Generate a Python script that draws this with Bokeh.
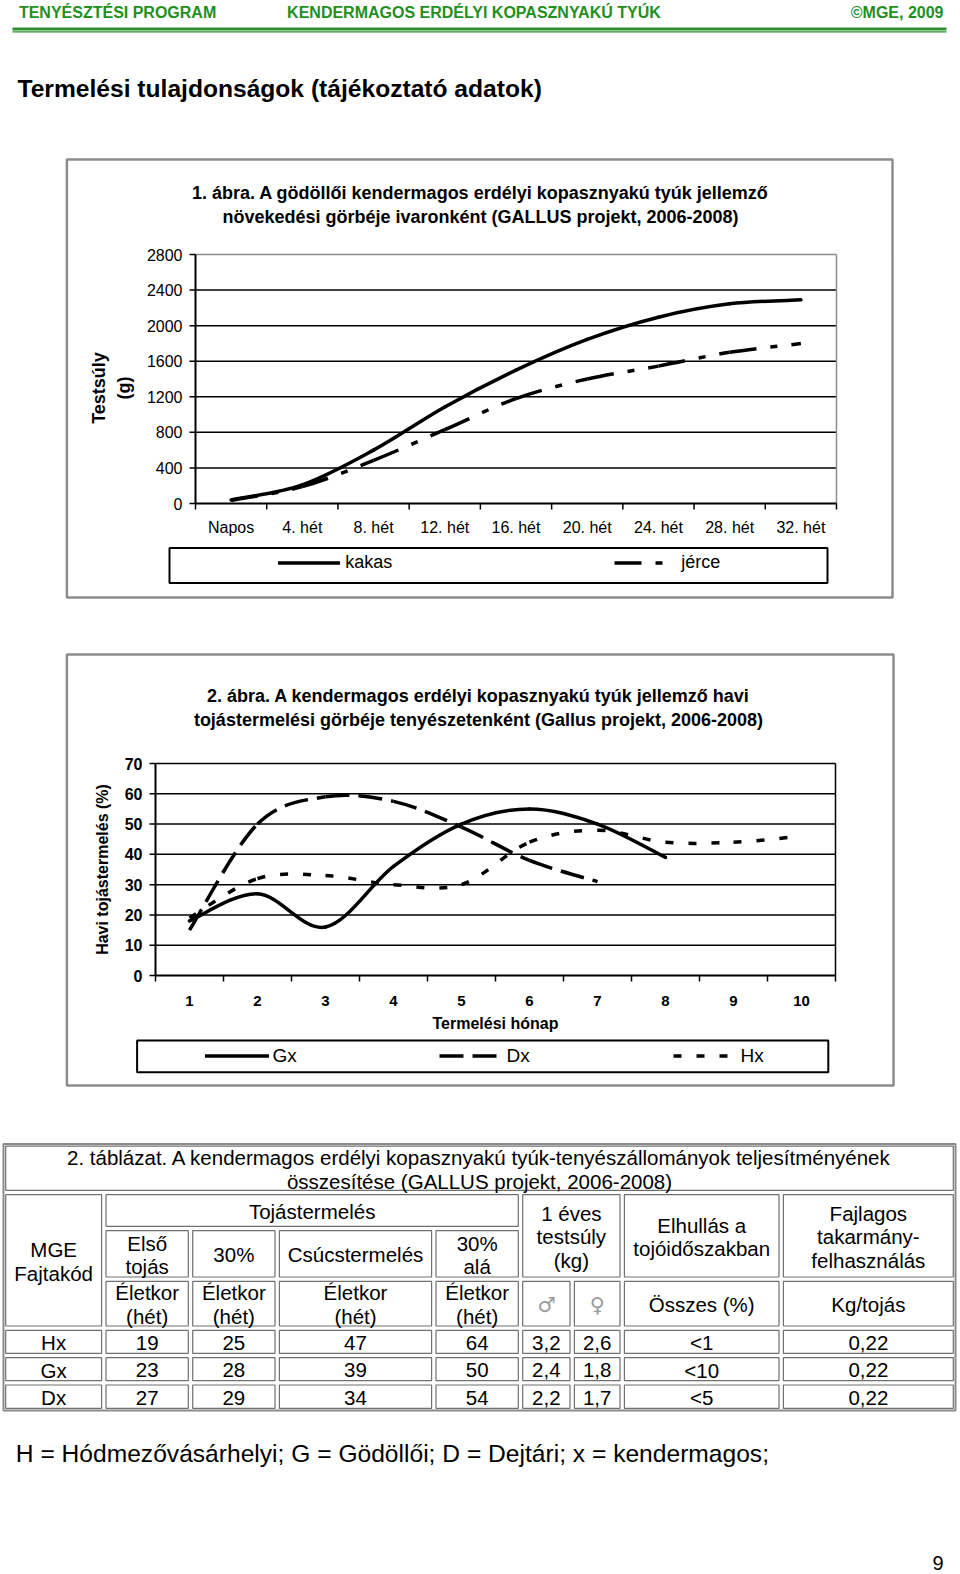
import math
from bokeh.plotting import figure
from bokeh.models import Range1d, Legend, LegendItem, ColumnDataSource
from bokeh.core.properties import value
from bokeh.embed import file_html
from bokeh.resources import INLINE

# ---------------- texts & data ----------------
header_left = "TENYÉSZTÉSI PROGRAM"
header_mid = "KENDERMAGOS ERDÉLYI KOPASZNYAKÚ TYÚK"
header_right = "©MGE, 2009"
page_title = "Termelési tulajdonságok (tájékoztató adatok)"

chart1_title = ["1. ábra. A gödöllői kendermagos erdélyi kopasznyakú tyúk jellemző",
                "növekedési görbéje ivaronként (GALLUS projekt, 2006-2008)"]
chart1_ylabel = ["Testsúly", "(g)"]
weeks = ["Napos", "4. hét", "8. hét", "12. hét", "16. hét", "20. hét", "24. hét", "28. hét", "32. hét"]
kakas = [40, 210, 600, 1085, 1500, 1845, 2095, 2245, 2290]
jerce = [35, 190, 485, 830, 1180, 1400, 1545, 1700, 1798]
weight_ticks = [0, 400, 800, 1200, 1600, 2000, 2400, 2800]

chart2_title = ["2. ábra. A kendermagos erdélyi kopasznyakú tyúk jellemző havi",
                "tojástermelési görbéje tenyészetenként (Gallus projekt, 2006-2008)"]
chart2_ylabel = "Havi tojástermelés (%)"
chart2_xlabel = "Termelési hónap"
months = [1, 2, 3, 4, 5, 6, 7, 8, 9, 10]
gx = [18, 27, 16, 36, 50, 55, 50, 39]
dx = [15, 50, 59, 57.5, 49, 38, 31]
hx = [19, 32, 33, 30, 30, 44, 48, 44, 44, 46]
pct_ticks = [0, 10, 20, 30, 40, 50, 60, 70]

table_title = ["2. táblázat. A kendermagos erdélyi kopasznyakú tyúk-tenyészállományok teljesítményének",
               "összesítése (GALLUS projekt, 2006-2008)"]
head_code = ["MGE", "Fajtakód"]
head_egg = ["Tojástermelés"]
head_egg_sub = [["Első", "tojás"], ["30%"], ["Csúcstermelés"], ["30%", "alá"]]
head_age = ["Életkor", "(hét)"]
head_weight = ["1 éves", "testsúly", "(kg)"]
head_sex = ["♂", "♀"]
head_mort = ["Elhullás a", "tojóidőszakban"]
head_mort_sub = ["Összes (%)"]
head_feed = ["Fajlagos", "takarmány-", "felhasználás"]
head_feed_sub = ["Kg/tojás"]
codes = ["Hx", "Gx", "Dx"]
first_egg = [19, 23, 27]
p30 = [25, 28, 29]
peak = [47, 39, 34]
below30 = [64, 50, 54]
w_male = [3.2, 2.4, 2.2]
w_female = [2.6, 1.8, 1.7]
mortality = ["<1", "<10", "<5"]
feed = [0.22, 0.22, 0.22]

footnote = "H = Hódmezővásárhelyi; G = Gödöllői; D = Dejtári; x = kendermagos;"
page_no = "9"

FONT = "Liberation Sans"
GREEN_T = "#1f8f1f"
GREEN_L = "#2e8f2e"
W, H = 960, 1574


def smooth_segments(xs, ys):
    """Bezier segments through the data points (Excel-like smoothed line)."""
    n = len(ys)
    d = dict(x0=[], y0=[], x1=[], y1=[], cx0=[], cy0=[], cx1=[], cy1=[])
    for i in range(n - 1):
        xa, ya = (xs[i - 1], ys[i - 1]) if i > 0 else (xs[i], ys[i])
        xb, yb = (xs[i + 2], ys[i + 2]) if i + 2 < n else (xs[i + 1], ys[i + 1])
        d["x0"].append(xs[i]); d["y0"].append(ys[i])
        d["x1"].append(xs[i + 1]); d["y1"].append(ys[i + 1])
        d["cx0"].append(xs[i] + (xs[i + 1] - xa) / 6.0)
        d["cy0"].append(ys[i] + (ys[i + 1] - ya) / 6.0)
        d["cx1"].append(xs[i + 1] - (xb - xs[i]) / 6.0)
        d["cy1"].append(ys[i + 1] - (yb - ys[i]) / 6.0)
    return ColumnDataSource(d)


def lin_range(v_a, p_a, v_b, p_b, p_start, p_end):
    """Range whose values map v_a->pixel p_a and v_b->pixel p_b across the page canvas."""
    k = (v_b - v_a) / (p_b - p_a)
    return Range1d(start=v_a + (p_start - p_a) * k, end=v_a + (p_end - p_a) * k)


P = figure(width=W, height=H, x_range=Range1d(0, W), y_range=Range1d(H, 0),
           x_axis_type=None, y_axis_type=None, title=None, min_border=0,
           toolbar_location=None, output_backend="svg", outline_line_color=None)
P.background_fill_color = "white"
P.border_fill_color = "white"


def txt(xs, ys, texts, size, bold=False, align="center", color="black", font=FONT,
        angle=0.0, xr="default", yr="default"):
    P.text(x=xs, y=ys, text=texts, text_align=align, text_baseline="middle",
           text_font=value(font), text_font_size=value(size),
           text_font_style="bold" if bold else "normal", text_color=color, angle=angle,
           x_range_name=xr, y_range_name=yr)


def box(l, r, t, b, color, width):
    P.quad(left=[l], right=[r], top=[t], bottom=[b], fill_color=None,
           line_color=color, line_width=width)


# ---------------- header ----------------
txt([18.4], [11.7], [header_left], "16px", bold=True, align="left", color=GREEN_T)
txt([286.6], [11.7], [header_mid], "16px", bold=True, align="left", color=GREEN_T)
txt([943], [11.7], [header_right], "16px", bold=True, align="right", color=GREEN_T)
P.segment(x0=[12], y0=[28.5], x1=[946], y1=[28.5], line_color=GREEN_L, line_width=3)
P.segment(x0=[12], y0=[31.4], x1=[946], y1=[31.4], line_color=GREEN_L, line_width=1.2)
txt([17], [88], [page_title], "24.6px", bold=True, align="left")

# ---------------- chart 1 ----------------
L1, R1, T1, B1 = 195, 836, 254, 503
xpos1 = list(range(1, len(weeks) + 1))
bounds1 = [v - 0.5 for v in xpos1] + [xpos1[-1] + 0.5]
P.extra_x_ranges["c1x"] = lin_range(bounds1[0], L1, bounds1[-1], R1, 0, W)
P.extra_y_ranges["c1y"] = lin_range(weight_ticks[0], B1, weight_ticks[-1], T1, H, 0)

box(66.4, 892, 159, 597, "#8c8c8c", 2.5)
txt([480, 480], [192.5, 216.3], chart1_title, "18px", bold=True)

g1 = weight_ticks[1:-1]
P.segment(x0=[bounds1[0]] * len(g1), x1=[bounds1[-1]] * len(g1), y0=g1, y1=g1,
          x_range_name="c1x", y_range_name="c1y", line_color="black", line_width=1.5)
P.segment(x0=[bounds1[0], bounds1[-1]], x1=[bounds1[-1], bounds1[-1]],
          y0=[weight_ticks[-1], weight_ticks[0]], y1=[weight_ticks[-1], weight_ticks[-1]],
          x_range_name="c1x", y_range_name="c1y", line_color="#8c8c8c", line_width=1.5)
P.segment(x0=[bounds1[0], bounds1[0]], x1=[bounds1[0], bounds1[-1]],
          y0=[weight_ticks[0], weight_ticks[0]], y1=[weight_ticks[-1], weight_ticks[0]],
          x_range_name="c1x", y_range_name="c1y", line_color="black", line_width=2)
P.segment(x0=[L1 - 6] * len(weight_ticks), x1=[L1] * len(weight_ticks), y0=weight_ticks, y1=weight_ticks,
          y_range_name="c1y", line_color="black", line_width=1.5)
P.segment(x0=bounds1, x1=bounds1, y0=[B1] * len(bounds1), y1=[B1 + 6] * len(bounds1),
          x_range_name="c1x", line_color="black", line_width=1.5)
txt([182] * len(weight_ticks), weight_ticks, [str(v) for v in weight_ticks], "16px",
    align="right", yr="c1y")
txt(xpos1, [526.7] * len(weeks), weeks, "16px", xr="c1x")
txt([98, 123.5], [387.5, 387.5], chart1_ylabel, "18px", bold=True, angle=math.pi / 2)

r_kakas = P.bezier(x0="x0", y0="y0", x1="x1", y1="y1", cx0="cx0", cy0="cy0", cx1="cx1", cy1="cy1",
                   source=smooth_segments(xpos1, kakas), x_range_name="c1x", y_range_name="c1y",
                   line_color="black", line_width=3.5, line_cap="round")
r_jerce = P.bezier(x0="x0", y0="y0", x1="x1", y1="y1", cx0="cx0", cy0="cy0", cx1="cx1", cy1="cy1",
                   source=smooth_segments(xpos1, jerce), x_range_name="c1x", y_range_name="c1y",
                   line_color="black", line_width=3.5, line_dash="27 14 7 14")

box(169, 827, 547.5, 582.5, "black", 2)
leg1 = Legend(items=[LegendItem(label="kakas", renderers=[r_kakas]),
                     LegendItem(label="jérce", renderers=[r_jerce])],
              orientation="horizontal", location=(278.3, H - 575.0),
              glyph_width=62, glyph_height=25, label_width=269, label_height=25,
              label_standoff=5, padding=0, margin=0, spacing=0,
              border_line_color=None, background_fill_alpha=0,
              label_text_font=FONT, label_text_font_size="18px", label_text_color="black")
P.add_layout(leg1)

# ---------------- chart 2 ----------------
L2, R2, T2, B2 = 155, 835, 763, 975
bounds2 = [m - 0.5 for m in months] + [months[-1] + 0.5]
P.extra_x_ranges["c2x"] = lin_range(bounds2[0], L2, bounds2[-1], R2, 0, W)
P.extra_y_ranges["c2y"] = lin_range(pct_ticks[0], B2, pct_ticks[-1], T2, H, 0)

box(66.4, 893, 654, 1085, "#8c8c8c", 2.5)
txt([478, 478], [695.5, 719], chart2_title, "18px", bold=True)

g2 = pct_ticks[1:]
P.segment(x0=[bounds2[0]] * len(g2), x1=[bounds2[-1]] * len(g2), y0=g2, y1=g2,
          x_range_name="c2x", y_range_name="c2y", line_color="black", line_width=1.5)
P.segment(x0=[bounds2[-1]], x1=[bounds2[-1]], y0=[pct_ticks[0]], y1=[pct_ticks[-1]],
          x_range_name="c2x", y_range_name="c2y", line_color="black", line_width=1.5)
P.segment(x0=[bounds2[0], bounds2[0]], x1=[bounds2[0], bounds2[-1]],
          y0=[pct_ticks[0], pct_ticks[0]], y1=[pct_ticks[-1], pct_ticks[0]],
          x_range_name="c2x", y_range_name="c2y", line_color="black", line_width=2)
P.segment(x0=[L2 - 6] * len(pct_ticks), x1=[L2] * len(pct_ticks), y0=pct_ticks, y1=pct_ticks,
          y_range_name="c2y", line_color="black", line_width=1.5)
P.segment(x0=bounds2, x1=bounds2, y0=[B2] * len(bounds2), y1=[B2 + 6] * len(bounds2),
          x_range_name="c2x", line_color="black", line_width=1.5)
txt([142] * len(pct_ticks), pct_ticks, [str(v) for v in pct_ticks], "16px", bold=True,
    align="right", yr="c2y")
txt(months, [1000] * len(months), [str(m) for m in months], "15px", bold=True, xr="c2x")
txt([495], [1022.7], [chart2_xlabel], "16px", bold=True)
txt([102], [869], [chart2_ylabel], "16px", bold=True, angle=math.pi / 2)

r_gx = P.bezier(x0="x0", y0="y0", x1="x1", y1="y1", cx0="cx0", cy0="cy0", cx1="cx1", cy1="cy1",
                source=smooth_segments(months[:len(gx)], gx), x_range_name="c2x", y_range_name="c2y",
                line_color="black", line_width=3.5, line_cap="round")
r_dx = P.bezier(x0="x0", y0="y0", x1="x1", y1="y1", cx0="cx0", cy0="cy0", cx1="cx1", cy1="cy1",
                source=smooth_segments(months[:len(dx)], dx), x_range_name="c2x", y_range_name="c2y",
                line_color="black", line_width=3.5, line_dash="24 9")
r_hx = P.bezier(x0="x0", y0="y0", x1="x1", y1="y1", cx0="cx0", cy0="cy0", cx1="cx1", cy1="cy1",
                source=smooth_segments(months[:len(hx)], hx), x_range_name="c2x", y_range_name="c2y",
                line_color="black", line_width=3.5, line_dash="8 15")

box(136.6, 827.8, 1040, 1071.7, "black", 2)
leg2 = Legend(items=[LegendItem(label="Gx", renderers=[r_gx]),
                     LegendItem(label="Dx", renderers=[r_dx]),
                     LegendItem(label="Hx", renderers=[r_hx])],
              orientation="horizontal", location=(204.6, H - 1068.4),
              glyph_width=64, glyph_height=25, label_width=166, label_height=25,
              label_standoff=4, padding=0, margin=0, spacing=0,
              border_line_color=None, background_fill_alpha=0,
              label_text_font=FONT, label_text_font_size="19px", label_text_color="black")
P.add_layout(leg2)

# ---------------- table + footer ----------------
X = [3.0, 103.3, 190.0, 276.7, 433.3, 520.0, 571.7, 621.7, 780.7, 955.0]
Y = [1143.5, 1192.0, 1228.0, 1278.7, 1327.7, 1355.0, 1382.3, 1410.0]
cells = []
cells.append((0, 9, 0, 1, table_title, "t"))
cells.append((0, 1, 1, 4, head_code, "t"))
cells.append((1, 5, 1, 2, head_egg, "t"))
for j, lab in enumerate(head_egg_sub):
    cells.append((1 + j, 2 + j, 2, 3, lab, "t"))
cells.append((5, 7, 1, 3, head_weight, "t"))
cells.append((7, 8, 1, 3, head_mort, "t"))
cells.append((8, 9, 1, 3, head_feed, "t"))
for j in range(4):
    cells.append((1 + j, 2 + j, 3, 4, head_age, "t"))
cells.append((5, 6, 3, 4, [head_sex[0]], "s"))
cells.append((6, 7, 3, 4, [head_sex[1]], "s"))
cells.append((7, 8, 3, 4, head_mort_sub, "t"))
cells.append((8, 9, 3, 4, head_feed_sub, "t"))
for i, code in enumerate(codes):
    row = [code, str(first_egg[i]), str(p30[i]), str(peak[i]), str(below30[i]),
           f"{w_male[i]:.1f}".replace(".", ","), f"{w_female[i]:.1f}".replace(".", ","),
           mortality[i], f"{feed[i]:.2f}".replace(".", ",")]
    for j, t in enumerate(row):
        cells.append((j, j + 1, 4 + i, 5 + i, [t], "t"))

INS = 2.2
LH = 23.5
ql, qr, qt, qb = [], [], [], []
tx, ty, tt = [], [], []
sx, sy, st = [], [], []
for c0, c1i, r0, r1, lines, kind in cells:
    ql.append(X[c0] + INS); qr.append(X[c1i] - INS)
    qt.append(Y[r0] + INS); qb.append(Y[r1] - INS)
    cx = (X[c0] + X[c1i]) / 2.0
    cy = (Y[r0] + Y[r1]) / 2.0
    n = len(lines)
    for k, ln in enumerate(lines):
        yy = cy + (k - (n - 1) / 2.0) * LH + 1
        if kind == "s":
            sx.append(cx); sy.append(yy); st.append(ln)
        else:
            tx.append(cx); ty.append(yy); tt.append(ln)

box(X[0], X[-1], Y[0], Y[-1], "#8a8a8a", 2)
P.quad(left=ql, right=qr, top=qt, bottom=qb, fill_color=None, line_color="#707070", line_width=1.2)
txt(tx, ty, tt, "20.5px")
txt(sx, sy, st, "20.5px", font="DejaVu Sans", color="#9a9a9a")
txt([15.3], [1453], [footnote], "24.6px", align="left")
txt([943], [1562], [page_no], "20px", align="right")

open("out.html", "w").write(file_html(P, INLINE))
